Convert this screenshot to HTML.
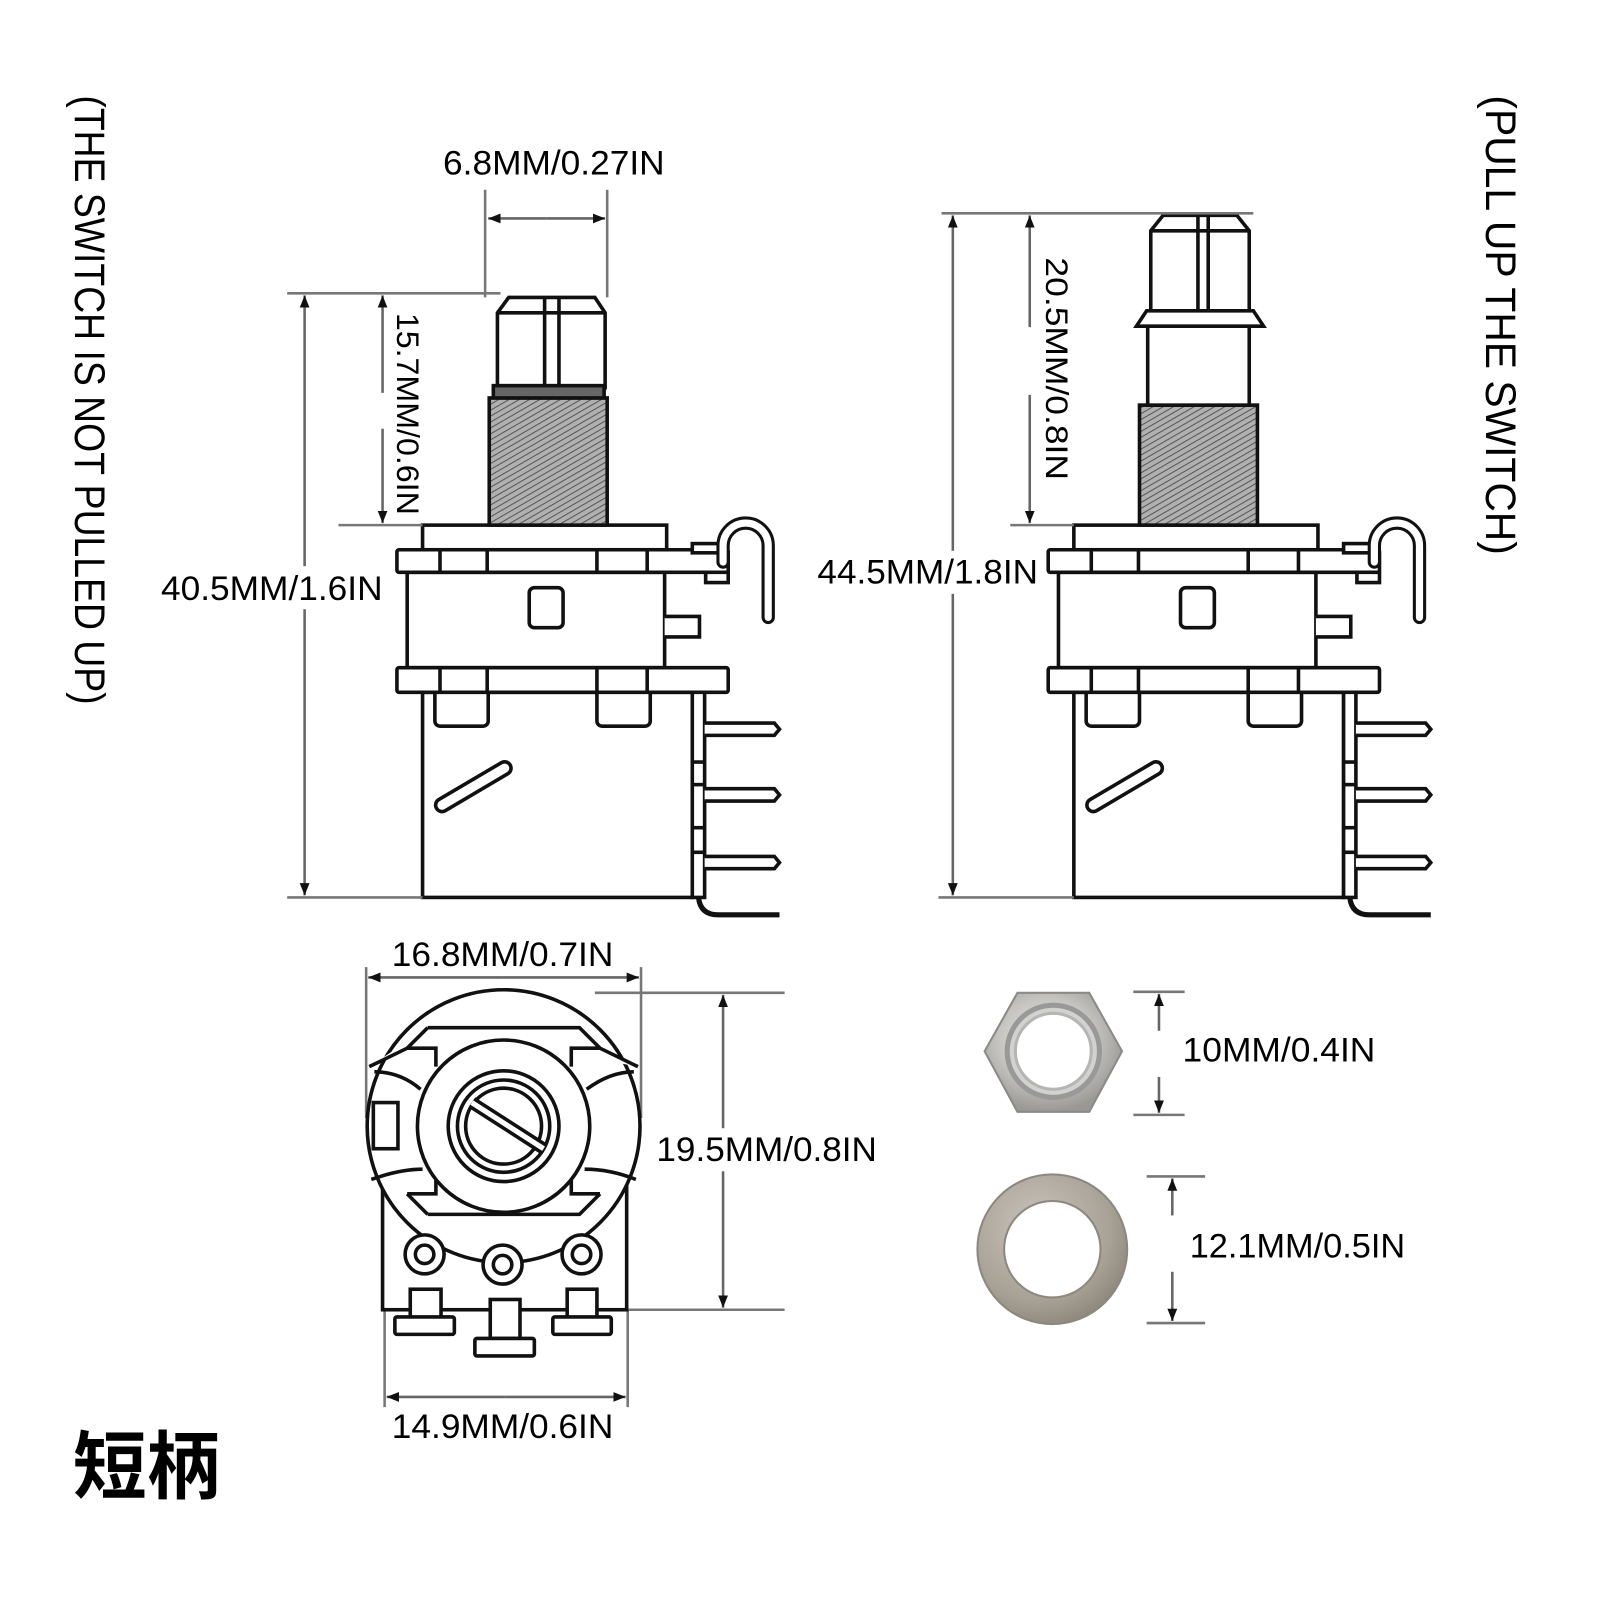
<!DOCTYPE html>
<html><head><meta charset="utf-8"><style>
html,body{margin:0;padding:0;background:#fff;}
svg{display:block;}
text{font-family:"Liberation Sans","Noto Sans CJK SC",sans-serif;fill:#000;}
</style></head><body>
<svg width="1600" height="1600" viewBox="0 0 1560 1560" xmlns="http://www.w3.org/2000/svg">
<defs>
<pattern id="hatch" patternUnits="userSpaceOnUse" width="5" height="5" patternTransform="rotate(-30)">
<rect width="5" height="5" fill="#b0b0b0"/><line x1="0" y1="0" x2="5" y2="0" stroke="#555" stroke-width="2"/>
</pattern>
<marker id="ar" viewBox="0 0 10 10" refX="10" refY="5" markerWidth="12" markerHeight="12" markerUnits="userSpaceOnUse" orient="auto-start-reverse"><path d="M0,1 L10,5 L0,9 z" fill="#111"/></marker>
<radialGradient id="metal" cx="45%" cy="40%" r="60%"><stop offset="0" stop-color="#ececea"/><stop offset="0.6" stop-color="#c4c3c0"/><stop offset="1" stop-color="#9a9894"/></radialGradient>
<radialGradient id="wash" cx="40%" cy="35%" r="70%"><stop offset="0" stop-color="#c9c4bb"/><stop offset="0.7" stop-color="#a8a196"/><stop offset="1" stop-color="#8c857a"/></radialGradient>
<g id="body" fill="#fff" stroke="#111" stroke-width="3.5">
  <rect x="412" y="512" width="238" height="24"/>
  <rect x="397" y="558" width="251" height="93"/>
  <rect x="516" y="573" width="33" height="39" rx="5"/>
  <path d="M648 601 H682 V621 H648" />
  <rect x="387" y="536" width="323" height="22" rx="2"/>
  <line x1="429" y1="536" x2="429" y2="558"/><line x1="475" y1="536" x2="475" y2="558"/>
  <line x1="582" y1="536" x2="582" y2="558"/><line x1="631" y1="536" x2="631" y2="558"/>
  <rect x="675" y="530" width="30" height="9"/>
  <rect x="688" y="558" width="22" height="10"/>
  <path d="M705 548 V532 A22 22 0 0 1 749 532 V602" fill="none" stroke="#111" stroke-width="13" stroke-linecap="round"/>
  <path d="M705 548 V532 A22 22 0 0 1 749 532 V602" fill="none" stroke="#fff" stroke-width="7" stroke-linecap="round"/>
  <rect x="412" y="675" width="263" height="200"/>
  <rect x="424" y="668" width="52" height="40" rx="5"/>
  <rect x="582" y="668" width="52" height="40" rx="5"/>
  <rect x="387" y="651" width="323" height="24" rx="2"/>
  <line x1="429" y1="651" x2="429" y2="675"/><line x1="475" y1="651" x2="475" y2="675"/>
  <line x1="582" y1="651" x2="582" y2="675"/><line x1="631" y1="651" x2="631" y2="675"/>
  <rect x="675" y="675" width="12" height="200"/>
  <line x1="675" y1="743" x2="687" y2="743"/><line x1="675" y1="765" x2="687" y2="765"/>
  <line x1="675" y1="807" x2="687" y2="807"/><line x1="675" y1="831" x2="687" y2="831"/>
  <path d="M687 705 H755 L760 711 L755 717 H687"/>
  <path d="M687 769 H755 L760 775 L755 781 H687"/>
  <path d="M687 835 H755 L760 841 L755 847 H687"/>
  <path d="M681 875 Q683 892 700 892 H760" fill="none" stroke-width="5"/>
  <line x1="431" y1="785" x2="492" y2="749" stroke-width="16" stroke-linecap="round"/>
  <line x1="431" y1="785" x2="492" y2="749" stroke="#fff" stroke-width="9" stroke-linecap="round"/>
</g>
</defs>

<text transform="translate(73,93) rotate(90)" x="0" y="0" font-size="42" textLength="594" lengthAdjust="spacingAndGlyphs">(THE SWITCH IS NOT PULLED UP)</text>
<text transform="translate(1449,93) rotate(90)" x="0" y="0" font-size="42" textLength="448" lengthAdjust="spacingAndGlyphs">(PULL UP THE SWITCH)</text>

<use href="#body"/>
<g stroke="#111" stroke-width="3.5" fill="#fff">
  <rect x="477" y="388" width="115" height="124" fill="url(#hatch)"/>
  <path d="M485 378 V305 L496 290 H580 L590 305 V378 Z"/>
  <line x1="485" y1="305" x2="590" y2="305"/>
  <line x1="531" y1="290" x2="531" y2="378"/><line x1="545" y1="290" x2="545" y2="378"/>
  <rect x="481" y="376" width="108" height="12" fill="#666"/>
</g>
<use href="#body" transform="translate(635,0)"/>
<g stroke="#111" stroke-width="3.5" fill="#fff">
  <rect x="1111" y="395" width="115" height="117" fill="url(#hatch)"/>
  <rect x="1119" y="318" width="99" height="77"/>
  <path d="M1122 303 V225 L1134 210 H1206 L1218 225 V303 Z"/>
  <line x1="1122" y1="225" x2="1218" y2="225"/>
  <line x1="1168" y1="210" x2="1168" y2="303"/><line x1="1178" y1="210" x2="1178" y2="303"/>
  <path d="M1118 303 H1222 L1232 318 H1108 Z"/>
</g>

<g stroke="#777" stroke-width="2.5" fill="none">
  <line x1="473" y1="185" x2="473" y2="290"/><line x1="592" y1="185" x2="592" y2="290"/>
  <line x1="280" y1="286" x2="488" y2="286"/>
  <line x1="330" y1="512" x2="412" y2="512"/>
  <line x1="280" y1="875" x2="412" y2="875"/>
  <line x1="918" y1="208" x2="1222" y2="208"/>
  <line x1="985" y1="512" x2="1047" y2="512"/>
  <line x1="915" y1="875" x2="1047" y2="875"/>
  <line x1="357" y1="943" x2="357" y2="1090"/><line x1="625" y1="943" x2="625" y2="1090"/>
  <line x1="580" y1="968" x2="765" y2="968"/><line x1="605" y1="1277" x2="765" y2="1277"/>
  <line x1="375" y1="1277" x2="375" y2="1372"/><line x1="612" y1="1277" x2="612" y2="1372"/>
  <line x1="1105" y1="967" x2="1155" y2="967"/><line x1="1105" y1="1087" x2="1155" y2="1087"/>
  <line x1="1118" y1="1147" x2="1175" y2="1147"/><line x1="1118" y1="1290" x2="1175" y2="1290"/>
</g>
<g stroke="#666" stroke-width="2.5" fill="none" marker-end="url(#ar)">
  <line x1="533" y1="213" x2="590" y2="213"/><line x1="533" y1="213" x2="476" y2="213"/>
  <line x1="297" y1="580" x2="297" y2="288"/><line x1="297" y1="580" x2="297" y2="873"/>
  <line x1="373" y1="383" x2="373" y2="288"/><line x1="373" y1="418" x2="373" y2="510"/>
  <line x1="929" y1="540" x2="929" y2="210"/><line x1="929" y1="540" x2="929" y2="873"/>
  <line x1="1004" y1="319" x2="1004" y2="210"/><line x1="1004" y1="385" x2="1004" y2="510"/>
  <line x1="490" y1="953" x2="359" y2="953"/><line x1="490" y1="953" x2="623" y2="953"/>
  <line x1="705" y1="1120" x2="705" y2="970"/><line x1="705" y1="1120" x2="705" y2="1275"/>
  <line x1="493" y1="1362" x2="377" y2="1362"/><line x1="493" y1="1362" x2="610" y2="1362"/>
  <line x1="1130" y1="1005" x2="1130" y2="969"/><line x1="1130" y1="1050" x2="1130" y2="1085"/>
  <line x1="1143" y1="1185" x2="1143" y2="1149"/><line x1="1143" y1="1240" x2="1143" y2="1288"/>
</g>
<g fill="#fff">
  <rect x="288" y="552" width="20" height="42"/>
  <rect x="920" y="537" width="20" height="42"/>
  <rect x="696" y="1100" width="20" height="42"/>
</g>

<g font-size="33">
<text x="432" y="170" textLength="216" lengthAdjust="spacingAndGlyphs">6.8MM/0.27IN</text>
<text x="157" y="585" textLength="216" lengthAdjust="spacingAndGlyphs">40.5MM/1.6IN</text>
<text x="797" y="569" textLength="215" lengthAdjust="spacingAndGlyphs">44.5MM/1.8IN</text>
<text x="382" y="942" textLength="216" lengthAdjust="spacingAndGlyphs">16.8MM/0.7IN</text>
<text x="640" y="1132" textLength="215" lengthAdjust="spacingAndGlyphs">19.5MM/0.8IN</text>
<text x="1153" y="1035" textLength="188" lengthAdjust="spacingAndGlyphs">10MM/0.4IN</text>
<text x="1160" y="1226" textLength="210" lengthAdjust="spacingAndGlyphs">12.1MM/0.5IN</text>
<text x="382" y="1402" textLength="216" lengthAdjust="spacingAndGlyphs">14.9MM/0.6IN</text>
<text transform="translate(387,305) rotate(90)" font-size="31" textLength="197" lengthAdjust="spacingAndGlyphs">15.7MM/0.6IN</text>
<text transform="translate(1020,251) rotate(90)" font-size="31" textLength="217" lengthAdjust="spacingAndGlyphs">20.5MM/0.8IN</text>
</g>
<text x="71" y="1455" font-size="72" font-weight="bold" style="font-family:'Noto Sans CJK SC',sans-serif">短柄</text>

<g stroke="#111" stroke-width="3.5" fill="#fff">
  <rect x="373" y="1150" width="238" height="127"/>
  <circle cx="491" cy="1098" r="133"/>
  <path d="M417 1002 H565 L585 1022 L622 1040 M417 1002 L397 1022 L360 1040"/>
  <path d="M397 1022 H425 V1040 M585 1022 H557 V1040" fill="none"/>
  <path d="M417 1184 H565 L585 1164 M417 1184 L397 1164" fill="none"/>
  <path d="M397 1164 H425 V1146 M585 1164 H557 V1146" fill="none"/>
  <path d="M365 1045 Q390 1045 410 1062 M618 1045 Q595 1045 572 1062" fill="none"/>
  <path d="M362 1150 Q390 1140 412 1140 M620 1150 Q595 1140 570 1140" fill="none"/>
  <rect x="364" y="1075" width="24" height="45"/>
  <circle cx="491" cy="1098" r="84"/>
  <circle cx="491" cy="1098" r="54"/>
  <circle cx="491" cy="1098" r="45"/>
  <circle cx="491" cy="1098" r="37"/>
  <line x1="460" y1="1075" x2="530" y2="1120" stroke-width="12"/>
  <line x1="460" y1="1075" x2="530" y2="1120" stroke="#fff" stroke-width="5"/>
  <circle cx="414" cy="1223" r="19"/><circle cx="414" cy="1223" r="9"/>
  <circle cx="490" cy="1233" r="19"/><circle cx="490" cy="1233" r="9"/>
  <circle cx="567" cy="1223" r="19"/><circle cx="567" cy="1223" r="9"/>
  <rect x="400" y="1257" width="30" height="28"/><rect x="385" y="1284" width="58" height="17" rx="2"/>
  <rect x="478" y="1267" width="29" height="38"/><rect x="463" y="1305" width="58" height="17" rx="2"/>
  <rect x="553" y="1257" width="29" height="28"/><rect x="539" y="1284" width="57" height="17" rx="2"/>
</g>

<polygon points="960,1025 992,968 1062,968 1094,1025 1062,1084 992,1084" fill="url(#metal)" stroke="#8a8a88" stroke-width="2"/>
<circle cx="1027" cy="1025" r="45" fill="#d2d2cf" stroke="#999" stroke-width="5"/>
<circle cx="1027" cy="1025" r="37" fill="#fff" stroke="#b5b5b5" stroke-width="3"/>
<circle cx="1026" cy="1218" r="73" fill="url(#wash)" stroke="#8c877f" stroke-width="2"/>
<circle cx="1026" cy="1218" r="47" fill="#fff" stroke="#8c877f" stroke-width="2"/>
</svg>
</body></html>
